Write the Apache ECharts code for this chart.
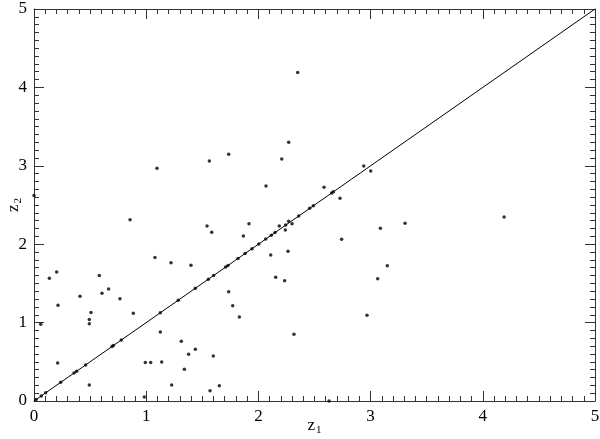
<!DOCTYPE html>
<html>
<head>
<meta charset="utf-8">
<script src="https://cdn.jsdelivr.net/npm/echarts@6/dist/echarts.min.js"></script>
<style>html,body{margin:0;padding:0;background:#fff;}#c{width:600px;height:439px;}</style>
</head>
<body>
<div id="c"></div>
<script>
// Points lying on the z2 = z1 line (z1 values; z2 equals z1)
var diagonalZ = [0.018, 0.065, 0.104, 0.238, 0.357, 0.38, 0.46, 0.695, 0.707, 0.778,
  1.126, 1.286, 1.438, 1.554, 1.601, 1.708, 1.729, 1.818, 1.881, 1.943, 2.003,
  2.065, 2.115, 2.148, 2.359, 2.457, 2.49, 2.653, 2.668];
// Off-diagonal points
var z1Values = [0.00, 1.096, 1.563, 1.735, 2.208, 2.27, 2.35, 2.068, 0.856, 1.542,
  1.584, 1.916, 1.866, 2.585, 2.727, 2.939, 3.001, 2.186, 2.27, 2.30,
  2.243, 2.24, 3.087, 3.307, 4.19, 2.742, 2.11, 2.264, 3.149, 2.154,
  2.234, 3.063, 2.968, 2.317, 2.63, 1.078, 1.221, 1.399, 1.735, 1.771,
  1.83, 1.126, 1.313, 1.438, 1.378, 1.598, 1.138, 1.34, 1.227, 1.652,
  1.569, 0.992, 1.04, 0.983, 0.202, 0.137, 0.582, 0.606, 0.665, 0.41,
  0.766, 0.214, 0.508, 0.493, 0.493, 0.885, 0.06, 0.211, 0.493];
var z2Values = [2.62, 2.968, 3.061, 3.147, 3.087, 3.30, 4.19, 2.742, 2.313, 2.232,
  2.151, 2.262, 2.105, 2.726, 2.585, 2.997, 2.934, 2.232, 2.292, 2.262,
  2.245, 2.18, 2.203, 2.266, 2.347, 2.062, 1.862, 1.909, 1.726, 1.578,
  1.535, 1.56, 1.093, 0.851, 0.0, 1.83, 1.764, 1.73, 1.394, 1.216,
  1.07, 0.88, 0.761, 0.659, 0.595, 0.574, 0.497, 0.404, 0.204, 0.195,
  0.131, 0.49, 0.49, 0.05, 1.645, 1.565, 1.60, 1.374, 1.43, 1.335,
  1.305, 1.22, 1.13, 1.04, 0.986, 1.12, 0.98, 0.485, 0.204];
var lineZ1 = [0, 5];
var lineZ2 = [0, 5];
var axisMin = 0, axisMax = 5, axisInterval = 1, minorInterval = 0.1;

var pts = [];
for (var i = 0; i < z1Values.length; i++) pts.push([z1Values[i], z2Values[i]]);
for (var j = 0; j < diagonalZ.length; j++) pts.push([diagonalZ[j], diagonalZ[j]]);
var line = [];
for (var k = 0; k < lineZ1.length; k++) line.push([lineZ1[k], lineZ2[k]]);

var font = "'Liberation Serif', 'Times New Roman', serif";
function mkAxis(pos, show, gridIndex, interval, tickLen, lineShow, extra) {
  var a = {
    type: 'value', position: pos, gridIndex: gridIndex,
    min: axisMin, max: axisMax, interval: interval,
    axisLine: {show: lineShow, onZero: false, lineStyle: {color: '#333', width: 1}},
    axisTick: {show: true, inside: true, length: tickLen, lineStyle: {color: '#333'}},
    minorTick: {show: false},
    splitLine: {show: false},
    axisLabel: {show: show, fontFamily: font, fontSize: 17, color: '#000', margin: 7}
  };
  for (var key in extra) a[key] = extra[key];
  return a;
}
var nameRich = {
  a: {fontFamily: font, fontSize: 17, color: '#000'},
  b: {fontFamily: font, fontSize: 11, color: '#000', padding: [10, 0, 0, 1]}
};
var gridBox = {left: 34, right: 5, top: 9, bottom: 38, containLabel: false, outerBoundsMode: 'none'};
var chart = echarts.init(document.getElementById('c'));
chart.setOption({
  animation: false,
  backgroundColor: '#fff',
  grid: [gridBox, gridBox],
  xAxis: [
    mkAxis('bottom', true, 0, axisInterval, 10, true, {
      name: '{a|z}{b|1}', nameLocation: 'middle', nameGap: 14, nameMoveOverlap: false,
      nameTextStyle: {rich: nameRich}
    }),
    mkAxis('top', false, 0, axisInterval, 10, true, {}),
    mkAxis('bottom', false, 1, minorInterval, 5, false, {}),
    mkAxis('top', false, 1, minorInterval, 5, false, {})
  ],
  yAxis: [
    mkAxis('left', true, 0, axisInterval, 10, true, {
      name: '{a|z}{b|2}', nameLocation: 'middle', nameGap: 10, nameRotate: 90, nameMoveOverlap: false,
      nameTextStyle: {rich: nameRich}
    }),
    mkAxis('right', false, 0, axisInterval, 10, true, {}),
    mkAxis('left', false, 1, minorInterval, 5, false, {}),
    mkAxis('right', false, 1, minorInterval, 5, false, {})
  ],
  series: [
    {type: 'line', xAxisIndex: 0, yAxisIndex: 0, data: line, showSymbol: false, symbol: 'none',
     lineStyle: {color: '#000', width: 1}, silent: true},
    {type: 'scatter', xAxisIndex: 0, yAxisIndex: 0, data: pts, symbol: 'circle', symbolSize: 3.5,
     itemStyle: {color: '#000'}}
  ]
});
</script>
</body>
</html>
